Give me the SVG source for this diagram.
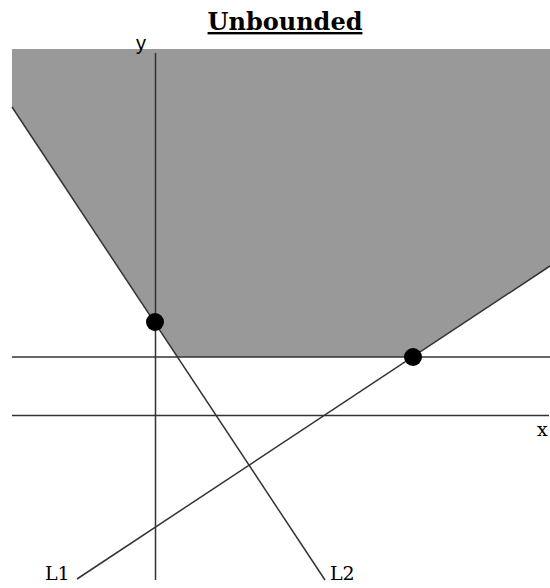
<svg xmlns="http://www.w3.org/2000/svg" width="550" height="588" viewBox="0 0 550 588">
<style>
.ln{stroke:#333;stroke-width:1.5;fill:none}
.pt{fill:#000}
.lbl{font-family:"DejaVu Serif","Liberation Serif",serif;fill:#000}
</style>
<rect width="550" height="588" fill="#fff"/>
<text x="285" y="30" text-anchor="middle" font-family="DejaVu Serif, Liberation Serif, serif" font-weight="bold" font-size="24" text-decoration="underline" fill="#000">Unbounded</text>
<g id="region">
<polygon points="12,49 550,49 550,266 413,357 177.5,357 12,107" fill="#999"/>
</g>
<g id="connectors">
<line class="ln" x1="155.5" y1="53" x2="155.5" y2="580"/>
<line class="ln" x1="12" y1="357" x2="550" y2="357"/>
<line class="ln" x1="12" y1="415.5" x2="549" y2="415.5"/>
<line class="ln" x1="12" y1="107" x2="325" y2="580" stroke="#444"/>
<line class="ln" x1="77" y1="579" x2="550" y2="266"/>
</g>
<g id="p1"><circle class="pt" cx="155" cy="322" r="9"/></g>
<g id="p2"><circle class="pt" cx="413" cy="357" r="9"/></g>
<g id="labels">
<text x="136" y="50" font-family="Liberation Sans, Arial, sans-serif" font-size="20" fill="#000">y</text>
<text class="lbl" x="537" y="436" font-size="19">x</text>
<text class="lbl" x="45" y="580" font-size="19">L1</text>
<text class="lbl" x="330" y="580" font-size="19">L2</text>
</g>
</svg>
